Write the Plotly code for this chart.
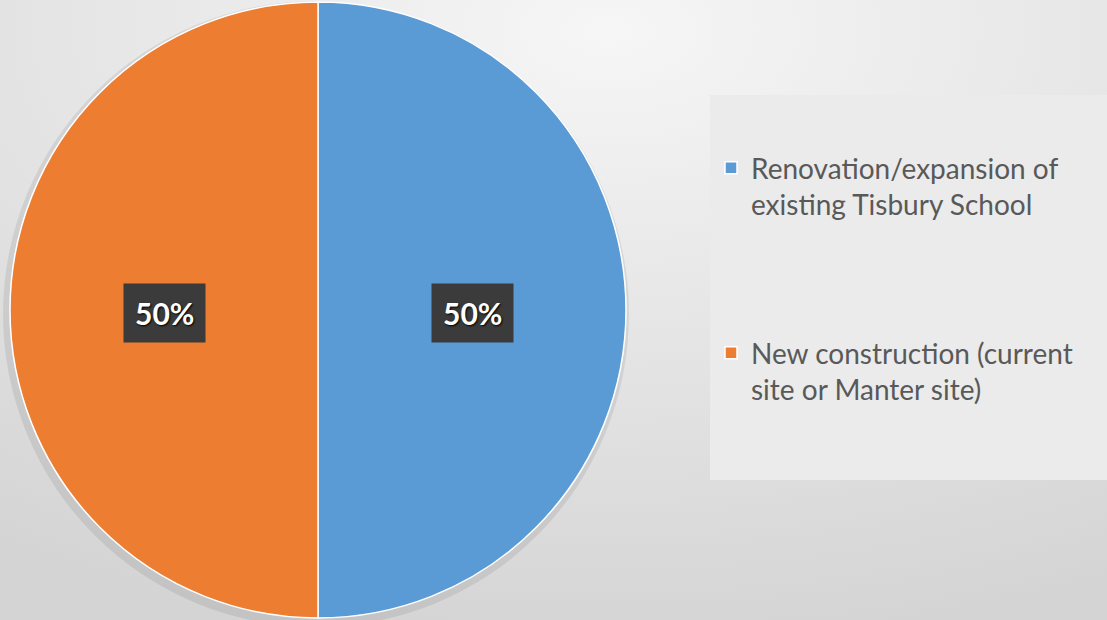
import math
import base64
import plotly.graph_objects as go

# ---- data ----
categories = [
    "Renovation/expansion of existing Tisbury School",
    "New construction (current site or Manter site)",
]
legend_labels = [
    "Renovation/expansion of<br>existing Tisbury School",
    "New construction (current<br>site or Manter site)",
]
values = [50, 50]
colors = ["#5B9BD5", "#ED7D31"]

W, H = 1107, 620
dom_x = [10 / W, 626 / W]
dom_y = [0.0, 1.0]

fig = go.Figure()
fig.add_trace(go.Pie(
    labels=[l + "<br> <br> <br> " for l in legend_labels],
    values=values,
    sort=False,
    direction="clockwise",
    rotation=0,
    marker=dict(colors=colors, line=dict(color="white", width=1.5)),
    textinfo="none",
    hovertext=categories,
    hoverinfo="text+percent",
    domain=dict(x=dom_x, y=dom_y),
    showlegend=True,
))

# percentage labels (dark boxes) positioned from the data
total = sum(values)
cx = (dom_x[0] + dom_x[1]) / 2
cy = (dom_y[0] + dom_y[1]) / 2
r_px = min((dom_x[1] - dom_x[0]) * W, (dom_y[1] - dom_y[0]) * H) / 2
cum = 0
annotations = []
for v in values:
    frac = (cum + v / 2) / total
    ang = math.pi / 2 - 2 * math.pi * frac
    x = cx + 0.5 * r_px * math.cos(ang) / W
    y = cy + 0.5 * r_px * math.sin(ang) / H
    annotations.append(dict(
        x=x, y=y - 3 / H, xref="paper", yref="paper",
        text="<b>%d%%</b>" % round(100 * v / total),
        showarrow=False,
        font=dict(family="Lato, Open Sans, sans-serif", size=30, color="white",
                  shadow="1px 1px 2px #000000"),
        bgcolor="#3b3b3b", borderpad=11, xanchor="center", yanchor="middle",
    ))
    cum += v

# background gradient image
svg = ('<svg xmlns="http://www.w3.org/2000/svg" width="1107" height="620">'
       '<defs><radialGradient id="g" cx="0.55" cy="0.05" r="1.0">'
       '<stop offset="0" stop-color="#f6f6f6"/>'
       '<stop offset="1" stop-color="#d4d4d4"/></radialGradient></defs>'
       '<rect width="1107" height="620" fill="url(#g)"/></svg>')
src = "data:image/svg+xml;base64," + base64.b64encode(svg.encode()).decode()

shapes = [
    # legend panel
    dict(type="rect", xref="paper", yref="paper",
         x0=710 / W, x1=1.0, y0=1 - 480 / H, y1=1 - 95 / H,
         fillcolor="#ebebeb", line=dict(width=0), layer="below"),
    # soft pie shadow
    dict(type="circle", xref="paper", yref="paper",
         x0=(316 - 313) / W, x1=(316 + 313) / W,
         y0=1 - (314 + 313) / H, y1=1 - (314 - 313) / H,
         fillcolor="rgba(0,0,0,0.08)", line=dict(width=0), layer="below"),
]

fig.update_layout(
    width=W, height=H,
    margin=dict(l=0, r=0, t=0, b=0),
    paper_bgcolor="#e6e6e6",
    plot_bgcolor="rgba(0,0,0,0)",
    images=[dict(source=src, xref="paper", yref="paper", x=0, y=1,
                 sizex=1, sizey=1, sizing="stretch", layer="below")],
    shapes=shapes,
    annotations=annotations,
    legend=dict(
        x=711 / W, y=1 - 143 / H, xanchor="left", yanchor="top",
        bgcolor="rgba(0,0,0,0)", valign="top",
        font=dict(family="Lato, Open Sans, sans-serif", size=28, color="#595959"),
        itemwidth=30,
    ),
)

fig.write_html("out.html", config={"displayModeBar": False},
               post_script="document.body.style.margin='0';")
